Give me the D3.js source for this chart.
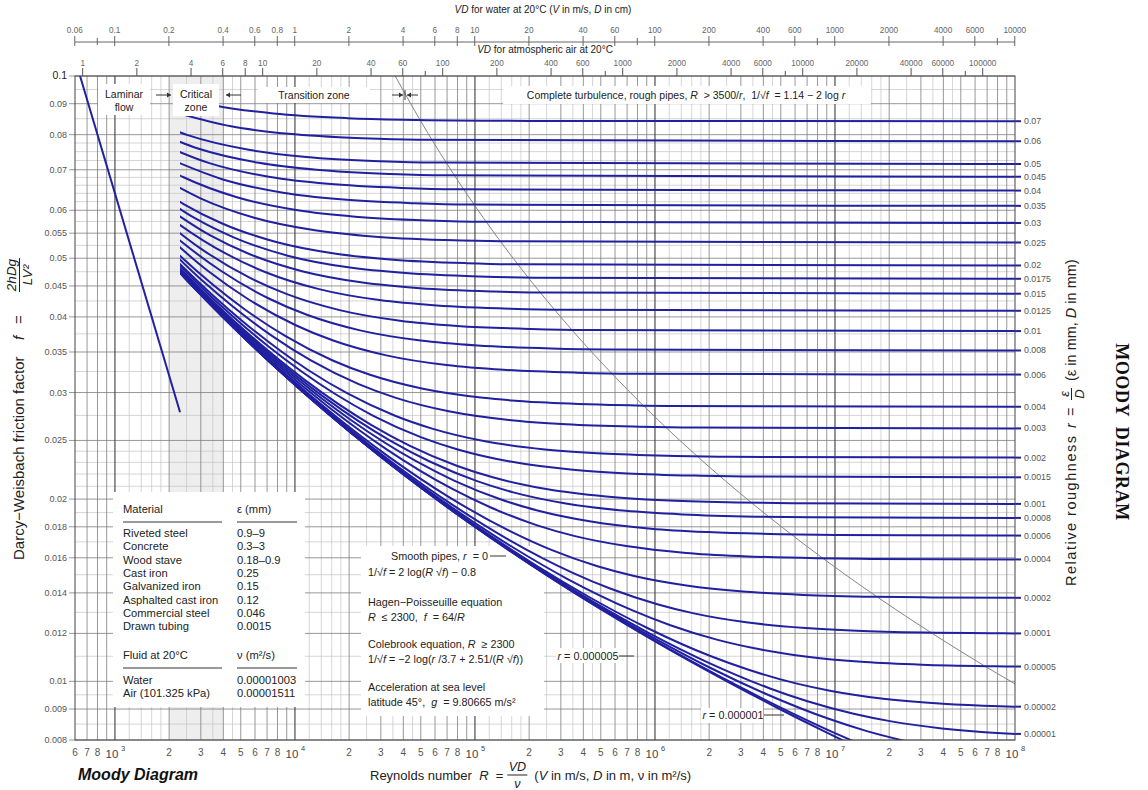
<!DOCTYPE html>
<html><head><meta charset="utf-8">
<script src="https://cdn.jsdelivr.net/npm/d3@7/dist/d3.min.js"></script>
<style>
body{margin:0;background:#fff}
text{font-family:"Liberation Sans",Arial,Helvetica,sans-serif;white-space:pre}
</style>
</head><body>
<svg id="c" width="1148" height="790"></svg>
<script>
// ---------------- DATA ----------------
// friction-factor axis
const fTickVals = [0.008,0.009,0.01,0.012,0.014,0.016,0.018,0.02,0.025,0.03,0.035,0.04,0.045,0.05,0.055,0.06,0.07,0.08,0.09,0.1];
const fTickText = ["0.008","0.009","0.01","0.012","0.014","0.016","0.018","0.02","0.025","0.03","0.035","0.04","0.045","0.05","0.055","0.06","0.07","0.08","0.09","0.1"];
const fMinorVals = [0.0085,0.0095,0.011,0.013,0.015,0.017,0.019,0.021,0.022,0.023,0.024,0.0275,0.0325,0.0375,0.0425,0.0475,0.0525,0.0575,0.062,0.064,0.066,0.068,0.0725,0.075,0.0775,0.085,0.095];
// Reynolds axis
const reDigitTicks = [600,700,800,2e3,3e3,4e3,5e3,6e3,7e3,8e3,2e4,3e4,4e4,5e4,6e4,7e4,8e4,2e5,3e5,4e5,5e5,6e5,7e5,8e5,2e6,3e6,4e6,5e6,6e6,7e6,8e6,2e7,3e7,4e7,5e7,6e7,7e7,8e7];
const reDigitText  = ["6","7","8","2","3","4","5","6","7","8","2","3","4","5","6","7","8","2","3","4","5","6","7","8","2","3","4","5","6","7","8","2","3","4","5","6","7","8"];
const reDecades = [1e3,1e4,1e5,1e6,1e7,1e8];
const reDecadeExp = ["3","4","5","6","7","8"];
const gridDecades = [100,1e3,1e4,1e5,1e6,1e7,1e8];
const gridMult = [2,3,4,5,6,7,8,9];
const gridFine = [1.2,1.4,1.6,1.8,2.5,3.5,4.5];
// top axes (VD, D in cm)
const nuWater = 1.003e-6, nuAir = 1.511e-5;
const waterVD   = [0.06,0.08,0.1,0.2,0.4,0.6,0.8,1,2,4,6,8,10,20,40,60,80,100,200,400,600,800,1000,2000,4000,6000,8000,10000];
const waterText = ["0.06","","0.1","0.2","0.4","0.6","0.8","1","2","4","6","8","10","20","40","60","","100","200","400","600","","1000","2000","4000","6000","","10000"];
const airVD   = [1,2,4,6,8,10,20,40,60,80,100,200,400,600,800,1000,2000,4000,6000,8000,10000,20000,40000,60000,80000,100000];
const airText = ["1","2","4","6","8","10","20","40","60","","100","200","400","600","","1000","2000","4000","6000","","10000","20000","40000","60000","","100000"];

// curves: [Reynolds number, friction factor]
const laminar = [[640,0.1],[2300,0.02783]];
const c0_07   = [[1663,0.09490],[3638,0.08931],[7604,0.08670],[19515,0.08519],[39372,0.08469],[198221,0.08430],[1e8,0.08420]];
const c0_06   = [[2021,0.08753],[4415,0.08257],[9221,0.08025],[23657,0.07890],[47723,0.07846],[1e8,0.07802]];
const c0_05   = [[1268,0.08710],[2538,0.07987],[5539,0.07554],[11562,0.07350],[29651,0.07232],[59809,0.07194],[1e8,0.07155]];
const c0_045  = [[1447,0.08258],[2893,0.07589],[6309,0.07188],[13165,0.06999],[33757,0.06889],[68086,0.06853],[1e8,0.06817]];
const c0_04   = [[1676,0.07793],[3347,0.07179],[7292,0.06809],[15212,0.06635],[38997,0.06533],[78649,0.06500],[1e8,0.06467]];
const c0_035  = [[1977,0.07311],[3944,0.06753],[8586,0.06415],[17904,0.06255],[45888,0.06163],[92539,0.06132],[1e8,0.06102]];
const c0_03   = [[1465,0.07376],[2391,0.06810],[4761,0.06306],[10357,0.06001],[21588,0.05857],[55316,0.05773],[111544,0.05745],[1e8,0.05717]];
const c0_025  = [[1833,0.06780],[2987,0.06280],[5940,0.05833],[12910,0.05561],[26899,0.05432],[68905,0.05357],[138933,0.05332],[1e8,0.05308]];
const c0_02   = [[1281,0.06983],[2407,0.06144],[3915,0.05711],[7773,0.05323],[16875,0.05086],[35142,0.04973],[89995,0.04907],[181439,0.04885],[1e8,0.04864]];
const c0_0175 = [[1509,0.06574],[2830,0.05805],[4599,0.05408],[9121,0.05049],[19791,0.04830],[41201,0.04725],[105494,0.04664],[212677,0.04644],[1e8,0.04624]];
const c0_015  = [[1821,0.06144],[3408,0.05448],[5532,0.05086],[10962,0.04759],[23768,0.04558],[49467,0.04462],[126634,0.04406],[255278,0.04387],[1e8,0.04369]];
const c0_0125 = [[1355,0.06433],[2271,0.05689],[4241,0.05067],[6876,0.04741],[13608,0.04446],[29486,0.04264],[61346,0.04178],[157013,0.04127],[316496,0.04110],[1e8,0.04094]];
const c0_01   = [[1777,0.05845],[2970,0.05197],[5532,0.04652],[8958,0.04365],[17706,0.04104],[38333,0.03942],[79720,0.03865],[203992,0.03820],[411166,0.03805],[1e8,0.03790]];
const c0_008  = [[962,0.06816],[2325,0.05333],[3877,0.04767],[7205,0.04286],[11651,0.04032],[23001,0.03800],[49761,0.03656],[103449,0.03587],[264657,0.03546],[533401,0.03533],[1e8,0.03520]];
const c0_006  = [[1366,0.06007],[3278,0.04767],[5451,0.04286],[10103,0.03875],[16313,0.03656],[32161,0.03455],[69515,0.03330],[144454,0.03270],[369465,0.03235],[744572,0.03223],[1e8,0.03212]];
const c0_004  = [[1014,0.06467],[2226,0.05090],[5296,0.04111],[8774,0.03724],[16206,0.03389],[26118,0.03209],[51402,0.03043],[110977,0.02940],[230491,0.02890],[589327,0.02861],[1187529,0.02851],[1e8,0.02842]];
const c0_003  = [[1439,0.05717],[3135,0.04562],[7419,0.03724],[12262,0.03389],[22601,0.03097],[36383,0.02940],[71521,0.02794],[154309,0.02703],[320372,0.02659],[818963,0.02634],[1650151,0.02625],[1e8,0.02617]];
const c0_002  = [[1116,0.06144],[2339,0.04864],[5056,0.03946],[11885,0.03265],[19586,0.02989],[36003,0.02746],[57870,0.02615],[113599,0.02492],[244865,0.02415],[508155,0.02378],[1298652,0.02357],[2616452,0.02349],[1e8,0.02342]];
const c0_0015 = [[1580,0.05448],[3291,0.04369],[7076,0.03581],[16562,0.02989],[27243,0.02746],[49992,0.02532],[80277,0.02416],[157439,0.02307],[339164,0.02238],[703644,0.02205],[1797939,0.02186],[3622187,0.02179],[1e8,0.02173]];
const c0_001  = [[1254,0.05845],[2566,0.04652],[5300,0.03790],[11322,0.03148],[26356,0.02656],[43249,0.02452],[79190,0.02271],[127007,0.02171],[248792,0.02078],[535553,0.02020],[1110666,0.01991],[2837333,0.01975],[5715770,0.01969],[1e8,0.01964]];
const c0_0008 = [[1642,0.05333],[3341,0.04286],[6875,0.03520],[14639,0.02942],[33986,0.02496],[55703,0.02310],[101882,0.02144],[163296,0.02052],[319686,0.01967],[687894,0.01913],[1426336,0.01887],[3643345,0.01871],[7339200,0.01866],[1e8,0.01862]];
const c0_0006 = [[1143,0.06007],[2315,0.04767],[4685,0.03875],[9596,0.03212],[20354,0.02705],[47101,0.02310],[77088,0.02144],[140804,0.01995],[225512,0.01913],[441163,0.01836],[948843,0.01787],[1966956,0.01764],[5023613,0.01750],[10119095,0.01745],[1e8,0.01741]];
const c0_0004 = [[1863,0.05090],[3740,0.04111],[7515,0.03389],[15304,0.02842],[32302,0.02417],[74438,0.02081],[121600,0.01939],[221725,0.01810],[354763,0.01739],[693363,0.01673],[1490366,0.01630],[3088600,0.01610],[7886833,0.01597],[15885655,0.01593],[1e8,0.01590]];
const c0_0002 = [[2127,0.04864],[4232,0.03946],[8392,0.03265],[16696,0.02746],[33714,0.02342],[70649,0.02021],[161800,0.01762],[263578,0.01650],[479359,0.01549],[765845,0.01493],[1494660,0.01440],[3209760,0.01406],[6648830,0.01389],[16973600,0.01379],[34185000,0.01376],[1e8,0.01374]];
const c0_0001 = [[1219,0.05845],[2435,0.04652],[4818,0.03790],[9477,0.03148],[18610,0.02656],[36723,0.02271],[73640,0.01964],[153392,0.01715],[349459,0.01511],[567930,0.01422],[1030560,0.01341],[1644365,0.01295],[3205270,0.01252],[6877760,0.01225],[14241300,0.01211],[36347400,0.01203],[73199000,0.01201],[1e8,0.01200]];
const c5e_5   = [[1402,0.05567],[2792,0.04454],[5502,0.03644],[10766,0.03037],[20979,0.02570],[40872,0.02202],[80111,0.01909],[159705,0.01670],[330970,0.01473],[750635,0.01310],[1217400,0.01238],[2204800,0.01172],[3514080,0.01135],[6842400,0.01099],[14672000,0.01076],[30370000,0.01065],[77496000,0.01059],[1e8,0.01058]];
const c2e_5   = [[2108,0.04864],[4164,0.03946],[8152,0.03265],[15846,0.02746],[30649,0.02342],[59137,0.02021],[114248,0.01762],[222296,0.01549],[440324,0.01373],[907360,0.01225],[2047500,0.01100],[3312990,0.01045],[5986860,0.009932],[9529940,0.009641],[18533300,0.009363],[39708800,0.009185],[82162000,0.009097],[1e8,0.009082]];
const c1e_5   = [[1215,0.05845],[2423,0.04652],[4775,0.03790],[9325,0.03148],[18079,0.02656],[34854,0.02271],[66945,0.01964],[128398,0.01715],[246753,0.01511],[477909,0.01341],[942776,0.01198],[1935660,0.01077],[4353600,0.009733],[7033740,0.009270],[12692000,0.008839],[20186600,0.008595],[39226000,0.008361],[84000000,0.008210],[1e8,0.008188]];
const c5e_6   = [[1400,0.05567],[2784,0.04454],[5475,0.03644],[10669,0.03037],[20642,0.02570],[39705,0.02202],[76033,0.01909],[145186,0.01670],[277040,0.01473],[530023,0.01310],[1022446,0.01172],[2009800,0.01054],[4113170,0.009540],[9224320,0.008672],[14882800,0.008282],[26821000,0.007917]];
const c1e_6   = [[1215,0.05845],[2421,0.04652],[4771,0.03790],[9310,0.03148],[18027,0.02656],[34678,0.02271],[66342,0.01964],[126339,0.01715],[239709,0.01511],[453580,0.01341],[857070,0.01198],[1620250,0.01077],[3074080,0.009733],[5885800,0.008839],[11491600,0.008063],[23374000,0.007385]];
const cSmooth = [[1004,0.0625],[2009,0.04938],[3969,0.04],[7763,0.03306],[15060,0.02778],[29013,0.02367],[55562,0.02041],[105863,0.01778],[200800,0.01563],[379396,0.01384],[714364,0.01235],[1340900,0.01108],[2510000,0.01],[4686800,0.009070],[8730870,0.008264],[16232000,0.007561]];
// boundary of complete turbulence, R = 3500/r
const roughBoundary = [[36057,0.1],[50000,0.08420],[70000,0.07155],[116667,0.05717],[175000,0.04864],[350000,0.03790],[700000,0.03037],[1750000,0.02342],[3500000,0.01964],[7000000,0.01670],[17500000,0.01373],[35000000,0.01198],[70000000,0.01054],[100000000,0.009904]];

const labelledCurves = [c0_07,c0_06,c0_05,c0_045,c0_04,c0_035,c0_03,c0_025,c0_02,c0_0175,c0_015,c0_0125,c0_01,c0_008,c0_006,c0_004,c0_003,c0_002,c0_0015,c0_001,c0_0008,c0_0006,c0_0004,c0_0002,c0_0001,c5e_5,c2e_5,c1e_5];
const roughText = ["0.07","0.06","0.05","0.045","0.04","0.035","0.03","0.025","0.02","0.0175","0.015","0.0125","0.01","0.008","0.006","0.004","0.003","0.002","0.0015","0.001","0.0008","0.0006","0.0004","0.0002","0.0001","0.00005","0.00002","0.00001"];
const extraCurves = [c5e_6,c1e_6,cSmooth];

// table
const materials = ["Riveted steel","Concrete","Wood stave","Cast iron","Galvanized iron","Asphalted cast iron","Commercial steel","Drawn tubing"];
const epsMm = ["0.9–9","0.3–3","0.18–0.9","0.25","0.15","0.12","0.046","0.0015"];
const fluids = ["Water","Air (101.325 kPa)"];
const nuText = ["0.00001003","0.00001511"];

// ---------------- DRAW ----------------
const svg = d3.select("#c");
const L=75, Rr=1015, T=76, B=740;
const x = d3.scaleLog().domain([600,1e8]).range([L,Rr]);
const y = d3.scaleLog().domain([0.008,0.1]).range([B,T]);
const BLUE = "#2020a0";
const defs = svg.append("defs");
defs.append("clipPath").attr("id","plot").append("rect").attr("x",L).attr("y",T).attr("width",Rr-L).attr("height",B-T);
defs.append("clipPath").attr("id","turb").append("rect").attr("x",x(2300)).attr("y",T).attr("width",Rr-x(2300)).attr("height",B-T);

// critical zone shading
svg.append("rect").attr("x",x(2000)).attr("y",T).attr("width",x(4000)-x(2000)).attr("height",B-T).attr("fill","#eeeeee");

// vertical grid
const fineV=[], minorV=[];
gridDecades.forEach(d=>{
  gridFine.forEach(m=>{const v=d*m; if(v>600&&v<1e8) fineV.push(v);});
  gridMult.forEach(m=>{const v=d*m; if(v>600&&v<1e8) minorV.push(v);});
});
const g = svg.append("g");
g.selectAll(".vf").data(fineV).join("line").attr("x1",d=>x(d)).attr("x2",d=>x(d)).attr("y1",T).attr("y2",B).attr("stroke","#c4c4c4").attr("stroke-width",0.7);
g.selectAll(".hf").data(fMinorVals).join("line").attr("x1",L).attr("x2",Rr).attr("y1",d=>y(d)).attr("y2",d=>y(d)).attr("stroke","#c4c4c4").attr("stroke-width",0.7);
g.selectAll(".vm").data(minorV).join("line").attr("x1",d=>x(d)).attr("x2",d=>x(d)).attr("y1",T).attr("y2",B).attr("stroke","#7e7e7e").attr("stroke-width",0.8);
g.selectAll(".hm").data(fTickVals).join("line").attr("x1",L-6).attr("x2",Rr).attr("y1",d=>y(d)).attr("y2",d=>y(d)).attr("stroke","#7e7e7e").attr("stroke-width",0.8);
g.selectAll(".vd").data(reDecades.slice(0,5)).join("line").attr("x1",d=>x(d)).attr("x2",d=>x(d)).attr("y1",T).attr("y2",B).attr("stroke","#3c3c3c").attr("stroke-width",1.1);

// white boxes (table + notes)
svg.append("rect").attr("x",113).attr("y",492).attr("width",192).attr("height",215).attr("fill","#fff");
svg.append("rect").attr("x",361).attr("y",546).attr("width",183).attr("height",170).attr("fill","#fff");
svg.append("rect").attr("x",556).attr("y",648).attr("width",62).attr("height",15).attr("fill","#fff");
svg.append("rect").attr("x",701).attr("y",708).attr("width",62).attr("height",15).attr("fill","#fff");

// boundary line
const line = d3.line().x(d=>x(d[0])).y(d=>y(d[1])).curve(d3.curveMonotoneX);
svg.append("path").attr("d",line(roughBoundary)).attr("fill","none").attr("stroke","#858585").attr("stroke-width",1).attr("clip-path","url(#plot)");

// laminar
svg.append("path").attr("d",line(laminar)).attr("fill","none").attr("stroke",BLUE).attr("stroke-width",2).attr("clip-path","url(#plot)");
// turbulent curves
const cg = svg.append("g").attr("clip-path","url(#turb)");
cg.selectAll("path").data(labelledCurves.concat(extraCurves)).join("path")
  .attr("d",d=>line(d)).attr("fill","none").attr("stroke",BLUE).attr("stroke-width",2);
// right end ticks + labels
svg.selectAll(".rt").data(labelledCurves).join("line")
  .attr("x1",Rr).attr("x2",Rr+6).attr("y1",d=>y(d[d.length-1][1])).attr("y2",d=>y(d[d.length-1][1]))
  .attr("stroke",BLUE).attr("stroke-width",2);
svg.selectAll(".rl").data(labelledCurves).join("text")
  .attr("x",Rr+9).attr("y",d=>y(d[d.length-1][1])+3).attr("font-size",8.8).attr("fill","#555")
  .text((d,i)=>roughText[i]);

// frame
svg.append("rect").attr("x",L).attr("y",T).attr("width",Rr-L).attr("height",B-T).attr("fill","none").attr("stroke","#444").attr("stroke-width",1);

// left tick labels
svg.selectAll(".yl").data(fTickVals).join("text")
  .attr("x",L-8).attr("y",d=>y(d)+3).attr("text-anchor","end").attr("font-size",d=>d===0.1?10.5:9).attr("fill",d=>d===0.1?"#222":"#555")
  .text((d,i)=>fTickText[i]);

// bottom tick labels
svg.selectAll(".xl").data(reDigitTicks).join("text")
  .attr("x",d=>x(d)).attr("y",756).attr("text-anchor","middle").attr("font-size",10).attr("fill","#555")
  .text((d,i)=>reDigitText[i]);
reDecades.forEach((d,i)=>{
  svg.append("text").attr("x",x(d)-3).attr("y",758).attr("text-anchor","middle").attr("font-size",11.5).attr("fill","#444").text("10");
  svg.append("text").attr("x",x(d)+6).attr("y",751).attr("font-size",7.5).attr("fill","#444").text(reDecadeExp[i]);
});

// top axes
const wx = v=>x(v*0.01/nuWater), ax = v=>x(v*0.01/nuAir);
svg.append("line").attr("x1",L).attr("x2",Rr).attr("y1",42).attr("y2",42).attr("stroke","#666").attr("stroke-width",1);
svg.selectAll(".wt").data(waterVD).join("line").attr("x1",d=>wx(d)).attr("x2",d=>wx(d))
  .attr("y1",(d,i)=>waterText[i]?36:38).attr("y2",(d,i)=>waterText[i]?46:45).attr("stroke","#666").attr("stroke-width",1);
svg.selectAll(".wl").data(waterVD).join("text").attr("x",d=>wx(d)).attr("y",33).attr("text-anchor","middle")
  .attr("font-size",8.2).attr("fill","#666").text((d,i)=>waterText[i]);
svg.selectAll(".at").data(airVD).join("line").attr("x1",d=>ax(d)).attr("x2",d=>ax(d))
  .attr("y1",(d,i)=>airText[i]?68:71).attr("y2",T).attr("stroke","#555").attr("stroke-width",1);
svg.selectAll(".al").data(airVD).join("text").attr("x",d=>ax(d)).attr("y",66).attr("text-anchor","middle")
  .attr("font-size",8.2).attr("fill","#666").text((d,i)=>airText[i]);

function rich(sel, parts){ parts.forEach(p=>{ const t=sel.append("tspan").text(p[0]); if(p[1]) t.attr("font-style","italic"); }); return sel; }
rich(svg.append("text").attr("x",543).attr("y",13).attr("text-anchor","middle").attr("font-size",10).attr("fill","#222"),
  [["VD",1],[" for water at 20°C (",0],["V",1],[" in m/s, ",0],["D",1],[" in cm)",0]]);
rich(svg.append("text").attr("x",545).attr("y",53).attr("text-anchor","middle").attr("font-size",10).attr("fill","#222"),
  [["VD",1],[" for atmospheric air at 20°C",0]]);

// top zone labels (with white boxes)
function box(x0,y0,w,h){ svg.append("rect").attr("x",x0).attr("y",y0).attr("width",w).attr("height",h).attr("fill","#fff"); }
box(98,84,52,31); box(173,84,46,32); box(258,87,112,16); box(503,86,368,18);
const lab = (tx,ty,s,fs)=>svg.append("text").attr("x",tx).attr("y",ty).attr("text-anchor","middle").attr("font-size",fs||10.5).attr("fill","#222").text(s);
lab(124,98,"Laminar"); lab(124,111,"flow");
lab(196,98,"Critical"); lab(196,111,"zone");
lab(314,99,"Transition zone");
// arrows drawn as short lines with heads
function arrow(x1,x2,yy){
  svg.append("line").attr("x1",x1).attr("x2",x2).attr("y1",yy).attr("y2",yy).attr("stroke","#333").attr("stroke-width",1);
  const s = x2>x1?1:-1;
  svg.append("path").attr("d",`M${x2},${yy} L${x2-4*s},${yy-2.5} L${x2-4*s},${yy+2.5} Z`).attr("fill","#333");
}
arrow(156,171,95); arrow(241,226,95);
arrow(392,403,95); arrow(418,407,95);
svg.append("line").attr("x1",405).attr("x2",405).attr("y1",90).attr("y2",100).attr("stroke","#333").attr("stroke-width",1);
rich(svg.append("text").attr("x",686).attr("y",99).attr("text-anchor","middle").attr("font-size",10.5).attr("fill","#222"),
  [["Complete turbulence, rough pipes, ",0],["R",1],["  > 3500/",0],["r",1],[",  1/√",0],["f",1],["  = 1.14 − 2 log ",0],["r",1]]);

// table text
const tf = 11.2, c1 = 123, c2 = 237;
const tt = (tx,ty,s)=>svg.append("text").attr("x",tx).attr("y",ty).attr("font-size",tf).attr("fill","#222").text(s);
tt(c1,513,"Material"); tt(c2,513,"ε (mm)");
svg.append("line").attr("x1",c1).attr("x2",222).attr("y1",522).attr("y2",522).attr("stroke","#333");
svg.append("line").attr("x1",c2).attr("x2",297).attr("y1",522).attr("y2",522).attr("stroke","#333");
materials.forEach((m,i)=>{ tt(c1,537+i*13.3,m); tt(c2,537+i*13.3,epsMm[i]); });
tt(c1,659,"Fluid at 20°C"); tt(c2,659,"ν (m²/s)");
svg.append("line").attr("x1",c1).attr("x2",222).attr("y1",668).attr("y2",668).attr("stroke","#333");
svg.append("line").attr("x1",c2).attr("x2",297).attr("y1",668).attr("y2",668).attr("stroke","#333");
fluids.forEach((m,i)=>{ tt(c1,684+i*13.3,m); tt(c2,684+i*13.3,nuText[i]); });

// notes text
const nf = 10.8, nx = 368;
const nt = (tx,ty,parts,anchor)=>rich(svg.append("text").attr("x",tx).attr("y",ty).attr("font-size",nf).attr("fill","#222").attr("text-anchor",anchor||"start"),parts);
nt(488,560,[["Smooth pipes, ",0],["r",1],["  = 0",0]],"end");
svg.append("line").attr("x1",490).attr("x2",506).attr("y1",556).attr("y2",556).attr("stroke","#333");
nt(nx,576,[["1/√",0],["f",1],[" = 2 log(",0],["R",1],[" √",0],["f",1],[") − 0.8",0]]);
nt(nx,606,[["Hagen−Poisseuille equation",0]]);
nt(nx,621,[["R",1],["  ≤ 2300,  ",0],["f",1],["  = 64/",0],["R",1]]);
nt(nx,648,[["Colebrook equation, ",0],["R",1],["  ≥ 2300",0]]);
nt(nx,663,[["1/√",0],["f",1],[" = −2 log(",0],["r",1],[" /3.7 + 2.51/(",0],["R",1],[" √",0],["f",1],["))",0]]);
nt(nx,691,[["Acceleration at sea level",0]]);
nt(nx,706,[["latitude 45°,  ",0],["g",1],["  = 9.80665 m/s²",0]]);

// curve labels
nt(588,660,[["r",1],[" = 0.000005",0]],"middle");
svg.append("line").attr("x1",619).attr("x2",634).attr("y1",656).attr("y2",656).attr("stroke","#333");
nt(733,719,[["r",1],[" = 0.000001",0]],"middle");
svg.append("line").attr("x1",764).attr("x2",784).attr("y1",715).attr("y2",715).attr("stroke","#333");

// bottom titles
svg.append("text").attr("x",78).attr("y",780).attr("font-size",16).attr("font-weight","bold").attr("font-style","italic").attr("fill","#111").text("Moody Diagram");
const bt = rich(svg.append("text").attr("x",370).attr("y",780).attr("font-size",13).attr("fill","#222"),[["Reynolds number  ",0],["R",1],["  =",0]]);
const bw = bt.node().getComputedTextLength();
const fx = 370+bw+14;
svg.append("text").attr("x",fx).attr("y",771).attr("text-anchor","middle").attr("font-size",12.5).attr("font-style","italic").attr("fill","#222").text("VD");
svg.append("line").attr("x1",fx-10).attr("x2",fx+10).attr("y1",775).attr("y2",775).attr("stroke","#222").attr("stroke-width",1);
svg.append("text").attr("x",fx).attr("y",788).attr("text-anchor","middle").attr("font-size",12.5).attr("font-style","italic").attr("fill","#222").text("ν");
rich(svg.append("text").attr("x",fx+17).attr("y",780).attr("font-size",13).attr("fill","#222"),
  [["(",0],["V",1],[" in m/s, ",0],["D",1],[" in m, ν in m²/s)",0]]);

// left title (rotated)
const lg = svg.append("g").attr("transform","translate(24,560) rotate(-90)");
const txt = (gg,tx,ty,s,fs,it,anchor)=>gg.append("text").attr("x",tx).attr("y",ty).attr("font-size",fs).attr("font-style",it?"italic":"normal").attr("text-anchor",anchor||"start").attr("fill","#222").text(s);
txt(lg,0,0,"Darcy−Weisbach friction factor",15,0);
txt(lg,220,0,"f",15,1);
txt(lg,236,0,"=",15,0);
txt(lg,285,-8,"2hDg",13.5,1,"middle");
lg.append("line").attr("x1",268).attr("x2",302).attr("y1",-4.5).attr("y2",-4.5).attr("stroke","#222");
txt(lg,285,8,"LV²",13.5,1,"middle");

// right title (rotated)
const rg = svg.append("g").attr("transform","translate(1076,586) rotate(-90)");
txt(rg,0,0,"Relative roughness",14.5,0).attr("textLength",150).attr("lengthAdjust","spacing");
txt(rg,158,0,"r",14.5,1);
txt(rg,170,0,"=",14.5,0);
txt(rg,192,-7,"ε",13,1,"middle");
rg.append("line").attr("x1",186).attr("x2",198).attr("y1",-4.5).attr("y2",-4.5).attr("stroke","#222");
txt(rg,192,8,"D",13,1,"middle");
rich(rg.append("text").attr("x",205).attr("y",0).attr("font-size",14.5).attr("fill","#222"),[["(ε in mm, ",0],["D",1],[" in mm)",0]]);

// MOODY DIAGRAM
svg.append("g").attr("transform","translate(1116,432) rotate(90)")
  .append("text").attr("text-anchor","middle").style("font-family","'Liberation Serif','Times New Roman',serif")
  .attr("font-weight","bold").attr("font-size",18).attr("letter-spacing",0.6).attr("fill","#111").text("MOODY  DIAGRAM");
</script>
</body></html>
